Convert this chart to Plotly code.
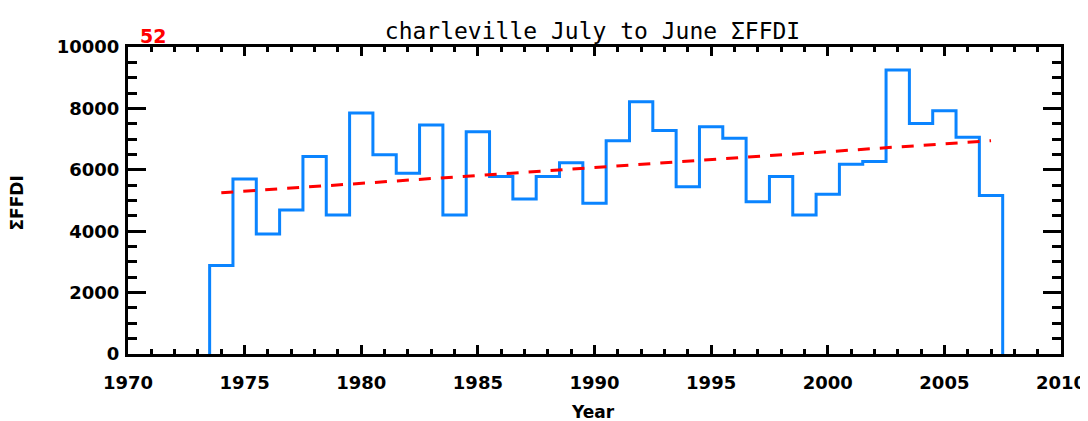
import plotly.graph_objects as go

# ---- data ----
years = list(range(1974, 2008))
ffdi = [2880, 5700, 3910, 4690, 6430, 4530, 7850, 6490, 5890, 7460,
        4530, 7240, 5780, 5050, 5780, 6230, 4910, 6950, 8220, 7280,
        5450, 7400, 7030, 4960, 5780, 4530, 5200, 6180, 6270, 9250,
        7510, 7920, 7060, 5160]
trend_years = [1974, 2007]
trend_values = [5250, 6950]
corner_label = "52"
title_text = "charleville July to June \u03a3FFDI"
x_title = "Year"
y_title = "\u03a3FFDI"
x_ticks = [1970, 1975, 1980, 1985, 1990, 1995, 2000, 2005, 2010]
y_ticks = [0, 2000, 4000, 6000, 8000, 10000]

# histogram-style step outline (bins centred on each year)
step_x = [years[0] - 0.5] + [y - 0.5 for y in years] + [years[-1] + 0.5]
step_y = [0] + ffdi + [0]

BLUE = "#0a84ff"
RED = "#ff0000"
FONT = "DejaVu Sans"

fig = go.Figure()
fig.add_trace(go.Scatter(x=step_x, y=step_y, mode="lines",
                         line=dict(color=BLUE, width=3, shape="hv"),
                         showlegend=False, hoverinfo="skip"))
fig.add_trace(go.Scatter(x=trend_years, y=trend_values, mode="lines",
                         line=dict(color=RED, width=3, dash="12px,10px"),
                         showlegend=False, hoverinfo="skip"))
# invisible traces for the tick-only (mirrored / inside-tick) axes
fig.add_trace(go.Scatter(x=[x_ticks[0]], y=[y_ticks[0]], xaxis="x2", yaxis="y2",
                         mode="markers", marker=dict(opacity=0),
                         showlegend=False, hoverinfo="skip"))
fig.add_trace(go.Scatter(x=[x_ticks[0]], y=[y_ticks[0]], xaxis="x", yaxis="y3",
                         mode="markers", marker=dict(opacity=0),
                         showlegend=False, hoverinfo="skip"))

tickfont = dict(family=FONT, size=18, color="black", weight="bold")
common_x = dict(range=[1970, 2010], tickmode="array", tickvals=x_ticks,
                ticks="inside", ticklen=9, tickwidth=3, tickcolor="black",
                minor=dict(dtick=1, tick0=1970, ticks="inside", ticklen=5,
                           tickwidth=3, tickcolor="black"),
                showline=True, linewidth=3, linecolor="black",
                showgrid=False, zeroline=False, automargin=False)
common_y = dict(range=[0, 10000], tickmode="array", tickvals=y_ticks,
                ticks="inside", ticklen=18, tickwidth=3, tickcolor="black",
                minor=dict(dtick=500, tick0=0, ticks="inside", ticklen=9,
                           tickwidth=3, tickcolor="black"),
                showline=True, linewidth=3, linecolor="black",
                showgrid=False, zeroline=False, tickformat="d", automargin=False)

fig.update_layout(
    width=1080, height=413,
    margin=dict(l=120, r=27, t=39, b=67),
    plot_bgcolor="white", paper_bgcolor="white",
    xaxis=dict(**common_x, tickfont=tickfont, ticklabelstandoff=10),
    # labelled left axis without ticks (ticks drawn by yaxis3)
    yaxis=dict(range=[0, 10000], tickmode="array", tickvals=y_ticks, ticks="",
               showline=True, linewidth=3, linecolor="black", showgrid=False,
               zeroline=False, tickformat="d", automargin=False,
               tickfont=tickfont, ticklabelstandoff=2),
    yaxis3=dict(**common_y, overlaying="y", side="left", anchor="x", showticklabels=False),
    xaxis2=dict(**common_x, overlaying="x", side="top", anchor="y", showticklabels=False),
    yaxis2=dict(**common_y, overlaying="y", side="right", anchor="x", showticklabels=False),
    title=dict(text=title_text, x=0.5412, xanchor="center", y=0.9455, yanchor="middle",
               font=dict(family="DejaVu Sans Mono", size=23, color="black")),
    annotations=[
        dict(text=corner_label, xref="paper", yref="paper", x=0.0, y=1.0,
             xanchor="left", yanchor="middle", yshift=11, xshift=10, showarrow=False,
             font=dict(family=FONT, size=19, color=RED, weight="bold")),
        dict(text=y_title, xref="paper", yref="paper", x=0.0, y=0.5,
             xanchor="center", yanchor="middle", xshift=-112, yshift=-3, textangle=-90,
             showarrow=False,
             font=dict(family=FONT, size=17, color="black", weight="bold")),
        dict(text=x_title, xref="paper", yref="paper", x=0.5, y=0.0,
             xanchor="center", yanchor="middle", yshift=-58, xshift=-2,
             showarrow=False,
             font=dict(family=FONT, size=17, color="black", weight="bold")),
    ],
)

fig.write_html("out.html")
